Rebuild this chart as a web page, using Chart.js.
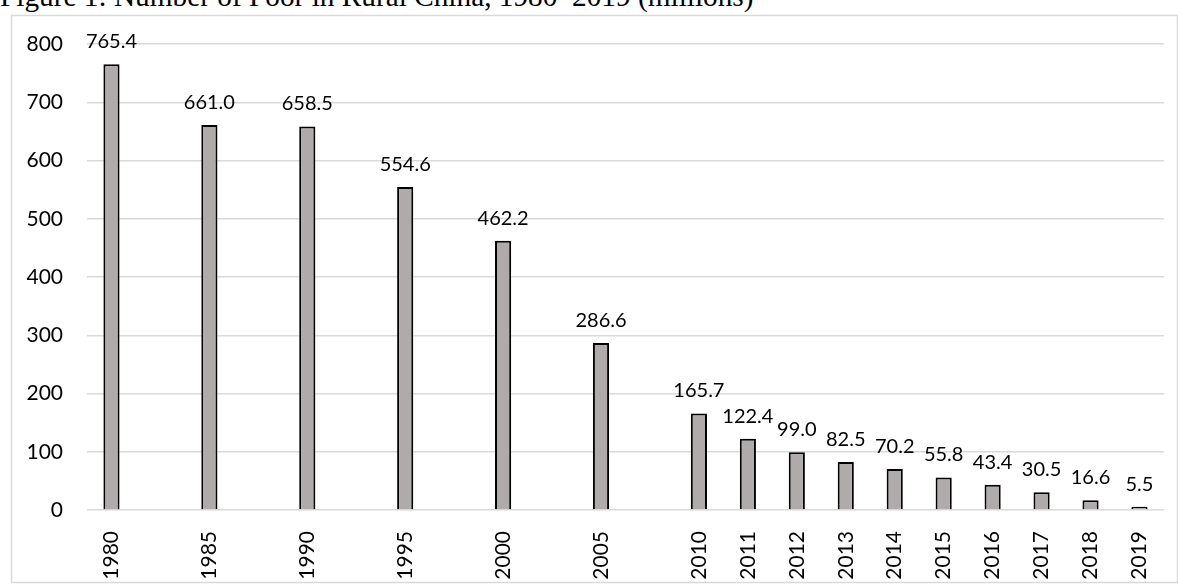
<!DOCTYPE html>
<html>
<head>
<meta charset="utf-8">
<script src="https://cdn.jsdelivr.net/npm/chart.js@4/dist/chart.umd.min.js"></script>
<style>
  html, body { margin: 0; padding: 0; background: #ffffff; }
  body { width: 1178px; height: 584px; position: relative; overflow: hidden; }
  #title {
    position: absolute; left: 0; top: -18px;
    font-family: "Liberation Serif", "Times New Roman", serif;
    font-size: 29.3px; line-height: 29px; white-space: nowrap; color: #000;
  }
  #wrap { position: absolute; left: 0; top: 0; width: 1178px; height: 584px; }
</style>
</head>
<body>
<div id="title">Figure 1: Number of Poor in Rural China, 1980–2019 (millions)</div>
<div id="wrap"><canvas id="poverty-chart"></canvas></div>
<script>
// --- DATA ---
// Empty labels keep the 5-year gaps the same width as in the original
const years = ['1980', '', '1985', '', '1990', '', '1995', '', '2000', '', '2005', '',
  '2010', '2011', '2012', '2013', '2014', '2015', '2016', '2017', '2018', '2019'];
const poorMillions = [765.4, null, 661.0, null, 658.5, null, 554.6, null, 462.2, null, 286.6, null,
  165.7, 122.4, 99.0, 82.5, 70.2, 55.8, 43.4, 30.5, 16.6, 5.5];
const yMax = 800;
const yStep = 100;

const tickFont = { family: 'Lato', size: 21 };

// outer light grey frame around the chart
const framePlugin = {
  id: 'frame',
  beforeDraw(chart) {
    const ctx = chart.ctx;
    ctx.save();
    ctx.strokeStyle = '#d9d9d9';
    ctx.lineWidth = 1.5;
    ctx.strokeRect(11.5, 15.5, 1166, 567);
    ctx.restore();
  }
};

// value labels above each bar
const valueLabels = {
  id: 'valueLabels',
  afterDatasetsDraw(chart) {
    const ctx = chart.ctx;
    const meta = chart.getDatasetMeta(0);
    ctx.save();
    ctx.font = '20px Lato';
    ctx.fillStyle = '#000';
    ctx.textAlign = 'center';
    ctx.textBaseline = 'alphabetic';
    meta.data.forEach((bar, i) => {
      const v = poorMillions[i];
      if (v === null) return;
      ctx.fillText(v.toFixed(1), bar.x, bar.y - 16);
    });
    ctx.restore();
  }
};

const ctx = document.getElementById('poverty-chart').getContext('2d');
new Chart(ctx, {
  type: 'bar',
  data: {
    labels: years,
    datasets: [{
      data: poorMillions,
      backgroundColor: '#afabab',
      borderColor: '#000000',
      borderWidth: 2,
      barPercentage: 0.33,
      categoryPercentage: 1.0
    }]
  },
  options: {
    responsive: true,
    maintainAspectRatio: false,
    animation: false,
    layout: { padding: { left: 0, right: 14, top: 44, bottom: 0 } },
    plugins: {
      legend: { display: false },
      tooltip: { enabled: false },
      title: { display: false }
    },
    scales: {
      x: {
        grid: { display: false },
        border: { display: false },
        ticks: {
          autoSkip: false,
          minRotation: 90,
          maxRotation: 90,
          padding: 13,
          color: '#000',
          font: tickFont
        },
        afterFit(scale) { scale.height = 74; }
      },
      y: {
        min: 0,
        max: yMax,
        grid: { color: '#d9d9d9', lineWidth: 1.5, drawTicks: false },
        border: { display: false },
        ticks: {
          stepSize: yStep,
          padding: 24,
          color: '#000',
          font: tickFont
        },
        afterFit(scale) { scale.width = 87; }
      }
    }
  },
  plugins: [framePlugin, valueLabels]
});
</script>
</body>
</html>
